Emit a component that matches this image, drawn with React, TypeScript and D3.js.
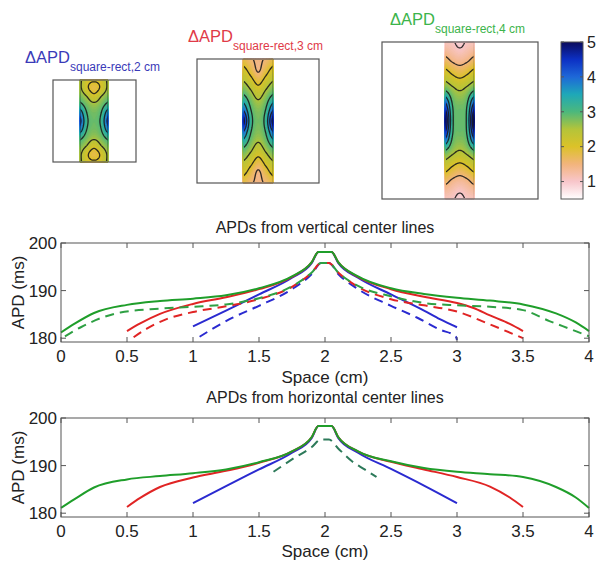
import React from "react";
import * as d3 from "d3";

const FONT = "'Liberation Sans', Arial, Helvetica, sans-serif";

// ---------------- line charts data ----------------
const xTickValues = [0, 0.5, 1, 1.5, 2, 2.5, 3, 3.5, 4];
const xTickLabels = ["0", "0.5", "1", "1.5", "2", "2.5", "3", "3.5", "4"];
const yTickValues = [180, 190, 200];
const yTickLabels = ["180", "190", "200"];

type P = [number, number];

// APDs from vertical center lines
const vBlueSolid: P[] = [[1, 182.5], [1.25, 185.8], [1.5, 189.2], [1.75, 192.7], [1.9, 195.8], [1.95, 198.1], [2.05, 198.1], [2.1, 195.8], [2.25, 192.7], [2.5, 189.2], [2.75, 185.8], [2.87, 184], [3, 182.3]];
const vBlueDash: P[] = [[1.05, 180.3], [1.15, 182], [1.3, 184.3], [1.5, 186.8], [1.75, 190.3], [1.9, 193.5], [1.97, 195.8], [2.03, 195.8], [2.1, 193.5], [2.25, 190.3], [2.5, 186.8], [2.7, 184.3], [2.87, 181.8], [2.99, 180.4], [3, 179.6]];
const vRedSolid: P[] = [[0.5, 181.5], [0.6, 183.1], [0.75, 185.1], [1, 187.2], [1.25, 188.6], [1.5, 190.3], [1.75, 192.9], [1.9, 196], [1.95, 198.1], [2.05, 198.1], [2.1, 196], [2.25, 192.9], [2.5, 190.3], [2.75, 188.7], [3, 187.4], [3.12, 186.4], [3.25, 184.8], [3.4, 183], [3.5, 181.5]];
const vRedDash: P[] = [[0.55, 180.2], [0.65, 182], [0.8, 184], [1, 185.5], [1.25, 186.7], [1.5, 188.2], [1.75, 190.8], [1.9, 193.8], [1.97, 195.8], [2.03, 195.8], [2.1, 193.8], [2.25, 190.8], [2.5, 188.2], [2.75, 186.9], [3, 185.6], [3.25, 182.9], [3.5, 180]];
const vGreenSolid: P[] = [[0, 181.2], [0.1, 183], [0.25, 185.3], [0.5, 187], [0.75, 187.8], [1, 188.3], [1.25, 189], [1.5, 190.5], [1.75, 193], [1.9, 196], [1.95, 198.1], [2.05, 198.1], [2.1, 196], [2.25, 193], [2.5, 190.5], [2.75, 189.3], [3, 188.5], [3.25, 187.9], [3.5, 187.1], [3.75, 185.2], [3.9, 183.3], [4, 181.5]];
const vGreenDash: P[] = [[0.03, 180.4], [0.15, 182.3], [0.3, 184.2], [0.45, 185.4], [0.75, 186.2], [1, 186.6], [1.25, 187.1], [1.5, 188.4], [1.75, 190.9], [1.9, 193.8], [1.97, 195.8], [2.03, 195.8], [2.1, 193.8], [2.25, 191], [2.5, 188.8], [2.75, 187.4], [3, 186.9], [3.25, 186.6], [3.5, 185.9], [3.7, 183.6], [3.85, 182], [4, 180.4]];

// APDs from horizontal center lines
const hBlueSolid: P[] = [[1, 182.1], [1.25, 185.7], [1.5, 189.2], [1.75, 192.7], [1.9, 195.8], [1.95, 198.3], [2.05, 198.3], [2.1, 195.8], [2.25, 192.7], [2.5, 189.3], [2.75, 185.8], [3, 182.1]];
const hRedSolid: P[] = [[0.5, 181.3], [0.6, 183.2], [0.75, 185.5], [1, 187.5], [1.25, 188.9], [1.5, 190.6], [1.75, 193], [1.9, 196], [1.95, 198.3], [2.05, 198.3], [2.1, 196], [2.25, 193], [2.5, 190.8], [2.75, 189.2], [3, 187.6], [3.25, 185.6], [3.4, 183.3], [3.5, 181.3]];
const hGreenSolid: P[] = [[0, 181.1], [0.1, 182.9], [0.25, 185.4], [0.5, 187.1], [0.75, 187.8], [1, 188.4], [1.25, 189.2], [1.5, 190.7], [1.75, 193], [1.9, 196], [1.95, 198.3], [2.05, 198.3], [2.1, 196], [2.25, 193], [2.5, 190.9], [2.75, 189.5], [3, 188.7], [3.25, 188.2], [3.5, 187.6], [3.75, 185.5], [3.9, 183.3], [4, 181.1]];
const hGreenDash: P[] = [[1.61, 188.7], [1.75, 191.3], [1.9, 193.9], [1.97, 195.5], [2.03, 195.5], [2.1, 193.6], [2.2, 191], [2.3, 189.2], [2.39, 187.6]];

// ---------------- contour panels data ----------------
const colorDomain = [0.5, 1, 1.5, 2, 2.5, 3, 3.5, 4, 4.5, 5];
const colorRange = ["#ffffff", "#f8c6cb", "#f2b47c", "#dcc228", "#b4c43a", "#4cb87c", "#1ea8b8", "#1e68d8", "#0c30c4", "#0b0b5c"];
const colorbarTicks = [1, 2, 3, 4, 5];
const contourLevels = [1, 1.5, 2, 2.5, 3, 3.5, 4, 4.5];
// rows: fraction of strip height from top (0..0.5, mirrored below); cols: edge, quarter, center (mirrored)
const field2cm = [[2.6, 2.15, 2.05], [2.6, 2.1, 1.8], [2.8, 2.5, 2.15], [3.15, 2.8, 2.6], [3.8, 3.0, 2.8], [4.15, 3.1, 2.85]];
const field3cm = [[1.8, 1.55, 1.45], [2.2, 1.85, 1.48], [2.6, 2.3, 1.95], [3.1, 2.7, 2.4], [3.9, 3.0, 2.7], [4.7, 3.2, 2.8]];
const field4cm = [[1.1, 1.05, 0.9], [1.55, 1.35, 1.25], [2.2, 1.95, 1.8], [2.9, 2.6, 2.45], [4.2, 3.0, 2.8], [5.0, 3.1, 2.9]];
const panelSubscripts = ["square-rect,2 cm", "square-rect,3 cm", "square-rect,4 cm"];

const colorScale = d3.scaleLinear<string>().domain(colorDomain).range(colorRange).interpolate(d3.interpolateRgb).clamp(true);

function cr(vals: number[], t: number) {
  const n = vals.length;
  const i = Math.min(Math.max(Math.floor(t), 0), n - 2);
  const s = t - i;
  const p0 = vals[Math.max(i - 1, 0)], p1 = vals[i], p2 = vals[i + 1], p3 = vals[Math.min(i + 2, n - 1)];
  return 0.5 * (2 * p1 + (-p0 + p2) * s + (2 * p0 - 5 * p1 + 4 * p2 - p3) * s * s + (-p0 + 3 * p1 - 3 * p2 + p3) * s * s * s);
}

function fullGrid(half: number[][]) {
  const rows = half.map((r) => [r[0], r[1], r[2], r[1], r[0]]);
  return [...rows, ...rows.slice(0, -1).reverse()];
}

function upsample(grid: number[][], nx: number, ny: number) {
  const R = grid.length, C = grid[0].length;
  const out = new Array(nx * ny);
  for (let i = 0; i < nx; i++) {
    const tu = ((i + 0.5) / nx) * (C - 1);
    const col = grid.map((row) => cr(row, tu));
    for (let j = 0; j < ny; j++) {
      const tv = ((j + 0.5) / ny) * (R - 1);
      out[j * nx + i] = cr(col, tv);
    }
  }
  return out;
}

type PanelSpec = {
  box: [number, number, number, number];
  strip: [number, number];
  field: number[][];
  color: string;
  titleX: number;
  titleY: number;
  sub: string;
  id: string;
};

function ContourPanel({ spec }: { spec: PanelSpec }) {
  const [bx, by, bw, bh] = spec.box;
  const [sx0, sx1] = spec.strip;
  const nx = 30;
  const ny = Math.round(bh);
  const values = upsample(fullGrid(spec.field), nx, ny);
  const xs = d3.scaleLinear().domain([0, nx]).range([sx0, sx1]);
  const ys = d3.scaleLinear().domain([0, ny]).range([by, by + bh]);
  const path = d3.geoPath(
    d3.geoTransform({
      point(x: number, y: number) {
        (this as any).stream.point(xs(x), ys(y));
      },
    })
  );
  const step = 0.05;
  const fillThr = d3.range(0.5, 5.0001, step);
  const fills = d3.contours().size([nx, ny]).smooth(true).thresholds(fillThr)(values);
  const lines = d3.contours().size([nx, ny]).smooth(true).thresholds(contourLevels)(values);
  return (
    <g>
      <defs>
        <clipPath id={"clip-" + spec.id}>
          <rect x={sx0 + 1} y={by + 1} width={sx1 - sx0 - 2} height={bh - 2} />
        </clipPath>
      </defs>
      <rect x={bx} y={by} width={bw} height={bh} fill="#fff" />
      {fills.map((c, i) => (
        <path key={i} d={path(c as any) || ""} fill={colorScale(c.value + step / 2)} stroke={colorScale(c.value + step / 2)} strokeWidth={0.3} />
      ))}
      <g clipPath={`url(#clip-${spec.id})`}>
        {lines.map((c, i) => (
          <path key={i} d={path(c as any) || ""} fill="none" stroke="#1c1c1c" strokeWidth={1.3} strokeOpacity={0.9} />
        ))}
      </g>
      <rect x={bx} y={by} width={bw} height={bh} fill="none" stroke="#555" strokeWidth={1.2} />
      <text x={spec.titleX} y={spec.titleY} fill={spec.color} fontFamily={FONT} fontSize={16.5}>
        ΔAPD
        <tspan dy={8} fontSize={12}>{spec.sub}</tspan>
      </text>
    </g>
  );
}

function Colorbar() {
  const x0 = 561, x1 = 583;
  const y = d3.scaleLinear().domain([0.5, 5]).range([199, 42]);
  return (
    <g>
      <defs>
        <linearGradient id="cbar" x1="0" y1="1" x2="0" y2="0">
          {colorDomain.map((d, i) => (
            <stop key={i} offset={(d - 0.5) / 4.5} stopColor={colorScale(d)} />
          ))}
        </linearGradient>
      </defs>
      <rect x={x0} y={y(5)} width={x1 - x0} height={y(0.5) - y(5)} fill="url(#cbar)" stroke="#555" strokeWidth={1} />
      {colorbarTicks.map((t, i) => (
        <g key={i}>
          <line x1={x1} x2={x1 - 3} y1={y(t)} y2={y(t)} stroke="#555" />
          <line x1={x0} x2={x0 + 3} y1={y(t)} y2={y(t)} stroke="#555" />
          <text x={587} y={y(t)} dy="0.36em" fontFamily={FONT} fontSize={16} fill="#222">
            {String(t)}
          </text>
        </g>
      ))}
    </g>
  );
}

type SeriesSpec = { data: P[]; color: string; dash?: string };

function LineChart({ top, bottom, title, titleY, tickY, xLabelY, series }: { top: number; bottom: number; title: string; titleY: number; tickY: number; xLabelY: number; series: SeriesSpec[] }) {
  const x = d3.scaleLinear().domain([0, 4]).range([61, 589]);
  const y = d3.scaleLinear().domain([179.2, 200]).range([bottom, top]);
  const line = d3.line<P>().x((d) => x(d[0])).y((d) => y(d[1])).curve(d3.curveMonotoneX);
  const axisColor = "#555";
  return (
    <g>
      <text x={(x(0) + x(4)) / 2} y={titleY} textAnchor="middle" fontFamily={FONT} fontSize={16} fill="#222">
        {title}
      </text>
      {series.map((s, i) => (
        <path key={i} d={line(s.data) || ""} fill="none" stroke={s.color} strokeWidth={2} strokeDasharray={s.dash} />
      ))}
      <rect x={x(0)} y={top} width={x(4) - x(0)} height={bottom - top} fill="none" stroke={axisColor} strokeWidth={1} />
      {xTickValues.map((t, i) => (
        <g key={i}>
          <line x1={x(t)} x2={x(t)} y1={bottom} y2={bottom - 5} stroke={axisColor} />
          <line x1={x(t)} x2={x(t)} y1={top} y2={top + 5} stroke={axisColor} />
          <text x={x(t)} y={tickY} textAnchor="middle" fontFamily={FONT} fontSize={17} fill="#222">
            {xTickLabels[i]}
          </text>
        </g>
      ))}
      {yTickValues.map((t, i) => (
        <g key={i}>
          <line x1={x(0)} x2={x(0) + 5} y1={y(t)} y2={y(t)} stroke={axisColor} />
          <line x1={x(4)} x2={x(4) - 5} y1={y(t)} y2={y(t)} stroke={axisColor} />
          <text x={57} y={y(t)} dy="0.36em" textAnchor="end" fontFamily={FONT} fontSize={17} fill="#222">
            {yTickLabels[i]}
          </text>
        </g>
      ))}
      <text transform={`translate(24,${(top + bottom) / 2}) rotate(-90)`} textAnchor="middle" fontFamily={FONT} fontSize={17} fill="#222">
        APD (ms)
      </text>
      <text x={(x(0) + x(4)) / 2} y={xLabelY} textAnchor="middle" fontFamily={FONT} fontSize={17} fill="#222">
        Space (cm)
      </text>
    </g>
  );
}

const BLUE = "#2a2ad0";
const RED = "#e02424";
const GREEN = "#1f9e2a";
const GREEN_DASH = "#2ea043";
const TEAL_DASH = "#2d7a5a";
const DASH = "9,6";

export default function App() {
  const panels: PanelSpec[] = [
    { id: "p2", box: [53, 80, 83, 82], strip: [79.5, 108.5], field: field2cm, color: "#3a3ab8", titleX: 25, titleY: 63, sub: panelSubscripts[0] },
    { id: "p3", box: [197, 59, 122, 124], strip: [243, 273.5], field: field3cm, color: "#e03a48", titleX: 188, titleY: 42, sub: panelSubscripts[1] },
    { id: "p4", box: [382, 42, 156, 157], strip: [445, 474.5], field: field4cm, color: "#3cb44b", titleX: 390, titleY: 25, sub: panelSubscripts[2] },
  ];
  const vSeries: SeriesSpec[] = [
    { data: vBlueSolid, color: BLUE },
    { data: vRedSolid, color: RED },
    { data: vGreenSolid, color: GREEN },
    { data: vBlueDash, color: BLUE, dash: DASH },
    { data: vRedDash, color: RED, dash: DASH },
    { data: vGreenDash, color: GREEN_DASH, dash: DASH },
  ];
  const hSeries: SeriesSpec[] = [
    { data: hBlueSolid, color: BLUE },
    { data: hRedSolid, color: RED },
    { data: hGreenSolid, color: GREEN },
    { data: hGreenDash, color: TEAL_DASH, dash: DASH },
  ];
  return (
    <svg width={600} height={563} style={{ position: "absolute", left: 0, top: 0, background: "#fff" }}>
      {panels.map((p) => (
        <ContourPanel key={p.id} spec={p} />
      ))}
      <Colorbar />
      <LineChart top={243} bottom={342} title="APDs from vertical center lines" titleY={233} tickY={362} xLabelY={383} series={vSeries} />
      <LineChart top={418} bottom={517} title="APDs from horizontal center lines" titleY={403} tickY={537} xLabelY={557} series={hSeries} />
    </svg>
  );
}
